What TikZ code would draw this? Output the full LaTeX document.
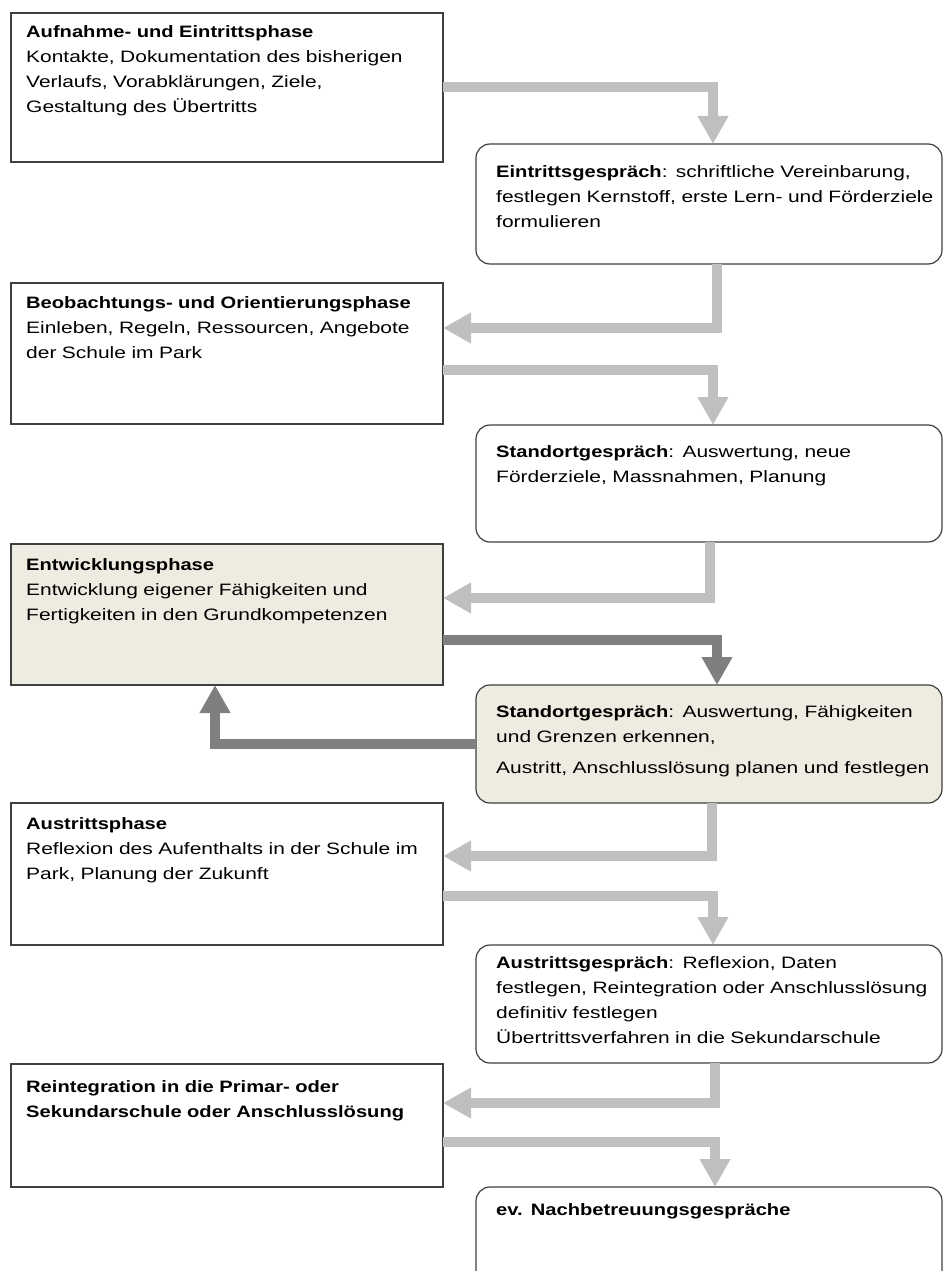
\documentclass[tikz,border=0pt]{standalone}
\usepackage{fontspec}
\setmainfont{Liberation Sans}[FakeStretch=1.27, BoldFeatures={FakeStretch=1.22}]
\usetikzlibrary{positioning,arrows.meta}

\definecolor{flowlight}{HTML}{BFBFBF}
\definecolor{flowdark}{HTML}{7F7F7F}
\definecolor{phasefill}{HTML}{EEECE1}
\definecolor{boxline}{HTML}{3F3F3F}
\newcommand\boxfont{\fontsize{16.5pt}{25pt}\selectfont}

\tikzset{
	phase/.style={draw=boxline, line width=1.2pt, outer sep=0pt, inner sep=0pt, fill=white, minimum width=432pt},
	talk/.style={phase, rounded corners=14pt, minimum width=466pt},
	boxtext/.style={anchor=base west, text width=460pt, align=left, inner sep=0pt, font=\boxfont},
	flow/.style={line width=10pt, color=flowlight, -{Triangle[width=29pt,length=28pt]}},
	flowstrong/.style={flow, color=flowdark},
}

\begin{document}
\begin{tikzpicture}[x=1pt, y=-1pt]
	\useasboundingbox (0,0) rectangle (943,1271);
	\clip (0,0) rectangle (943,1271);

	% phases (left) and talks (right)
	\node[phase, minimum height=149pt, anchor=north west] (aufnahme) at (11,13) {};
	\node[talk, minimum height=120pt, below right=-18pt and 33pt of aufnahme] (eintritt) {};
	\node[phase, minimum height=141pt, below left=19pt and 33pt of eintritt] (beobachtung) {};
	\node[talk, minimum height=117pt, below right=1pt and 33pt of beobachtung] (standort) {};
	\node[phase, fill=phasefill, minimum height=141pt, below left=2pt and 33pt of standort] (entwicklung) {};
	\node[talk, fill=phasefill, minimum height=118pt, below right=0pt and 33pt of entwicklung] (standortzwei) {};
	\node[phase, minimum height=142pt, below left=0pt and 33pt of standortzwei] (austritt) {};
	\node[talk, minimum height=118pt, below right=0pt and 33pt of austritt] (austrittsg) {};
	\node[phase, minimum height=123pt, below left=1pt and 33pt of austrittsg] (reintegration) {};
	\node[talk, minimum height=100pt, below right=0pt and 33pt of reintegration] (nachbetreuung) {};

	% texts
	\node[boxtext] (aufnahme-text) at ([shift={(15pt,-25pt)}]aufnahme.north west)
		{\textbf{Aufnahme- und Eintrittsphase}\\Kontakte, Dokumentation des bisherigen\\Verlaufs, Vorabklärungen, Ziele,\\Gestaltung des Übertritts};
	\node[boxtext] (eintritt-text) at ([shift={(20pt,-33pt)}]eintritt.north west)
		{\textbf{Eintrittsgespräch}: schriftliche Vereinbarung,\\festlegen Kernstoff, erste Lern- und Förderziele\\formulieren};
	\node[boxtext] (beobachtung-text) at ([shift={(15pt,-25pt)}]beobachtung.north west)
		{\textbf{Beobachtungs- und Orientierungsphase}\\Einleben, Regeln, Ressourcen, Angebote\\der Schule im Park};
	\node[boxtext] (standort-text) at ([shift={(20pt,-32pt)}]standort.north west)
		{\textbf{Standortgespräch}: Auswertung, neue\\Förderziele, Massnahmen, Planung};
	\node[boxtext] (entwicklung-text) at ([shift={(15pt,-26pt)}]entwicklung.north west)
		{\textbf{Entwicklungsphase}\\Entwicklung eigener Fähigkeiten und\\Fertigkeiten in den Grundkompetenzen};
	\node[boxtext] (standortzwei-text) at ([shift={(20pt,-32pt)}]standortzwei.north west)
		{\textbf{Standortgespräch}: Auswertung, Fähigkeiten\\und Grenzen erkennen,\\[6pt]Austritt, Anschlusslösung planen und festlegen};
	\node[boxtext] (austritt-text) at ([shift={(15pt,-26pt)}]austritt.north west)
		{\textbf{Austrittsphase}\\Reflexion des Aufenthalts in der Schule im\\Park, Planung der Zukunft};
	\node[boxtext] (austrittsg-text) at ([shift={(20pt,-23pt)}]austrittsg.north west)
		{\textbf{Austrittsgespräch}: Reflexion, Daten\\festlegen, Reintegration oder Anschlusslösung\\definitiv festlegen\\Übertrittsverfahren in die Sekundarschule};
	\node[boxtext, font=\boxfont\bfseries] (reintegration-text) at ([shift={(15pt,-28pt)}]reintegration.north west)
		{Reintegration in die Primar- oder\\Sekundarschule oder Anschlusslösung};
	\node[boxtext] (nachbetreuung-text) at ([shift={(20pt,-28pt)}]nachbetreuung.north west)
		{\textbf{ev. Nachbetreuungsgespräche}};

	% arrows
	\draw[flow] (aufnahme.east) -| ([xshift=4pt]eintritt.north);
	\draw[flow] ([xshift=8pt]eintritt.south) |- ([yshift=25.5pt]beobachtung.east);
	\draw[flow] ([yshift=-16.5pt]beobachtung.east) -| ([xshift=4pt]standort.north);
	\draw[flow] ([xshift=1pt]standort.south) |- ([yshift=16.5pt]entwicklung.east);
	\draw[flowstrong] ([yshift=-25.5pt]entwicklung.east) -| ([xshift=8pt]standortzwei.north);
	\draw[flowstrong] (standortzwei.west) -| ([xshift=-12pt]entwicklung.south);
	\draw[flow] ([xshift=3pt]standortzwei.south) |- ([yshift=18pt]austritt.east);
	\draw[flow] ([yshift=-21.5pt]austritt.east) -| ([xshift=4pt]austrittsg.north);
	\draw[flow] ([xshift=6pt]austrittsg.south) |- ([yshift=22.5pt]reintegration.east);
	\draw[flow] ([yshift=-16.5pt]reintegration.east) -| ([xshift=6pt]nachbetreuung.north);
\end{tikzpicture}
\end{document}
